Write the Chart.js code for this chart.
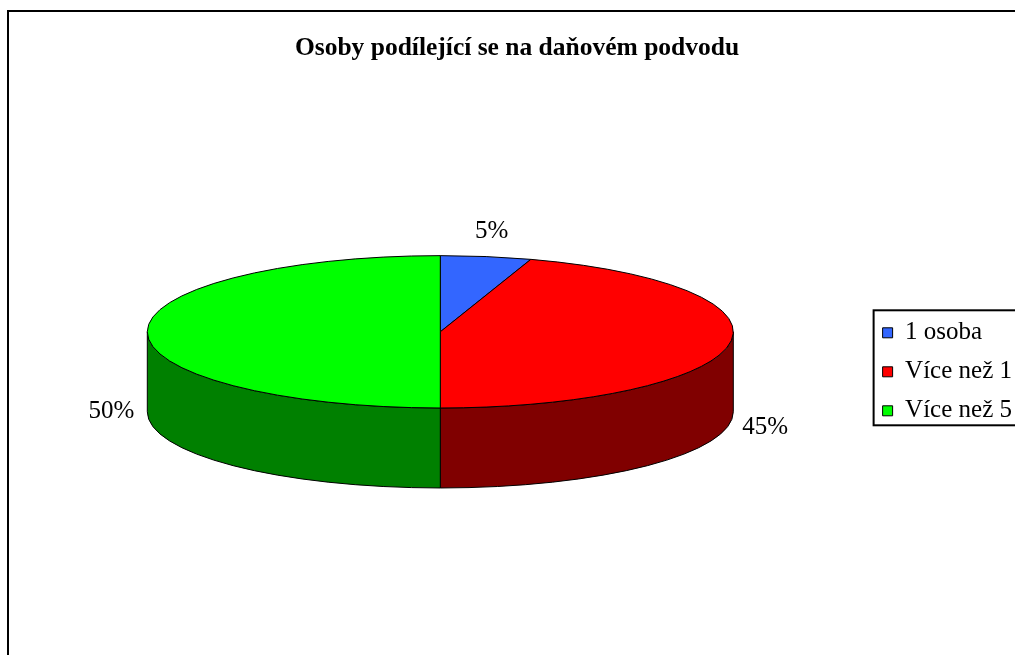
<!DOCTYPE html>
<html>
<head>
<meta charset="utf-8">
<title>Osoby podílející se na daňovém podvodu</title>
<script src="https://cdn.jsdelivr.net/npm/chart.js@4.4.1/dist/chart.umd.min.js"></script>
<style>
  html, body { margin: 0; padding: 0; background: #fff; overflow: hidden; }
  #wrap { position: relative; width: 1015px; height: 655px; }
</style>
</head>
<body>
<div id="wrap"><canvas id="pie"></canvas></div>
<script>
const chartTitle = 'Osoby podílející se na daňovém podvodu';
const labels = ['1 osoba', 'Více než 1', 'Více než 5'];
const values = [5, 45, 50];
const topColors = ['#3366ff', '#ff0000', '#00ff00'];
const sideColors = ['#1a3380', '#800000', '#008000'];

const serif = "'Liberation Serif', 'Times New Roman', serif";

// the disc is squashed into an ellipse, walls hang below it
const TILT = 0.26;   // ry / rx
const DEPTH = 0.273; // wall height / rx

const pie3d = {
  id: 'pie3d',
  beforeDraw(chart) {
    // outer frame, runs off the right and bottom edge
    const ctx = chart.ctx;
    ctx.save();
    ctx.lineWidth = 2;
    ctx.strokeStyle = '#000';
    ctx.strokeRect(8, 11, chart.width + 20, chart.height + 20);
    ctx.restore();
  },
  beforeDatasetsDraw(chart) {
    const ctx = chart.ctx;
    const arcs = chart.getDatasetMeta(0).data;
    if (!arcs.length) return false;
    const {x, y, outerRadius: rx} = arcs[0];
    const ry = rx * TILT;
    const depth = rx * DEPTH;
    const cy = y - depth / 2;

    ctx.save();
    ctx.lineWidth = 1;
    ctx.strokeStyle = '#000';
    ctx.lineJoin = 'round';

    // walls: only the front half (0..PI) can be seen
    arcs.forEach((arc, i) => {
      const a0 = Math.max(arc.startAngle, 0);
      const a1 = Math.min(arc.endAngle, Math.PI);
      if (a1 <= a0) return;
      ctx.beginPath();
      ctx.ellipse(x, cy, rx, ry, 0, a0, a1);
      ctx.lineTo(x + rx * Math.cos(a1), cy + depth + ry * Math.sin(a1));
      ctx.ellipse(x, cy + depth, rx, ry, 0, a1, a0, true);
      ctx.closePath();
      ctx.fillStyle = sideColors[i];
      ctx.fill();
      ctx.stroke();
    });

    // top faces
    arcs.forEach((arc) => {
      ctx.beginPath();
      ctx.moveTo(x, cy);
      ctx.ellipse(x, cy, rx, ry, 0, arc.startAngle, arc.endAngle);
      ctx.closePath();
      ctx.fillStyle = arc.options.backgroundColor;
      ctx.fill();
      ctx.stroke();
    });

    // percentage labels outside the slices, front ones sit level with the wall bottom
    ctx.font = '25px ' + serif;
    ctx.fillStyle = '#000';
    ctx.textAlign = 'center';
    ctx.textBaseline = 'middle';
    const total = values.reduce((a, b) => a + b, 0);
    arcs.forEach((arc, i) => {
      const mid = (arc.startAngle + arc.endAngle) / 2;
      const c = Math.cos(mid), s = Math.sin(mid);
      const drop = Math.max(0, Math.min(1, (s + 0.6) * 2));
      const lx = x + (rx + 36) * c;
      const ly = cy + (ry + 25) * s + depth * drop;
      ctx.fillText(Math.round(values[i] / total * 100) + '%', lx, ly);
    });
    ctx.restore();
    return false;
  },
  afterDraw(chart) {
    // box around the legend entries
    const lg = chart.legend;
    const boxes = lg.legendHitBoxes;
    if (!boxes || !boxes.length) return;
    const last = boxes[boxes.length - 1];
    const top = boxes[0].top - 10;
    const bottom = last.top + last.height + 2;
    const ctx = chart.ctx;
    ctx.save();
    ctx.lineWidth = 2;
    ctx.strokeStyle = '#000';
    ctx.strokeRect(lg.left + 5, top, chart.width, bottom - top);
    ctx.restore();
  }
};

new Chart(document.getElementById('pie'), {
  type: 'pie',
  data: {
    labels: labels,
    datasets: [{
      data: values,
      backgroundColor: topColors,
      borderColor: '#000',
      borderWidth: 1,
      radius: 293
    }]
  },
  options: {
    responsive: true,
    maintainAspectRatio: false,
    animation: false,
    layout: { padding: { left: 12, right: -7, top: 0, bottom: 0 } },
    plugins: {
      title: {
        display: true,
        text: chartTitle,
        color: '#000',
        font: { family: serif, size: 25.5, weight: 'bold' },
        padding: { top: 33, bottom: 25 }
      },
      legend: {
        position: 'right',
        align: 'center',
        fullSize: false,
        labels: {
          color: '#000',
          font: { family: serif, size: 25 },
          boxWidth: 10,
          boxHeight: 10,
          padding: 14
        }
      },
      tooltip: { enabled: false }
    }
  },
  plugins: [pie3d]
});
</script>
</body>
</html>
